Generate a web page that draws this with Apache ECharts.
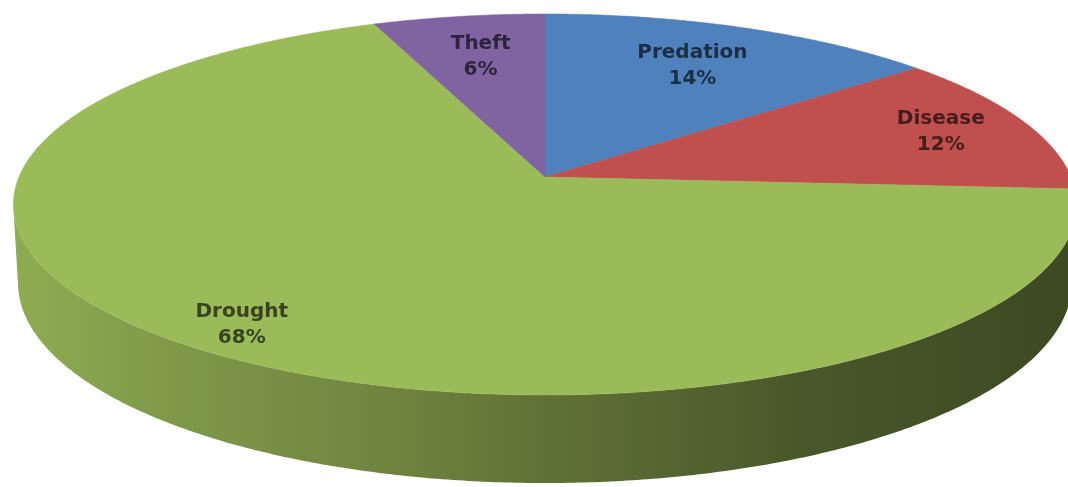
<!DOCTYPE html>
<html>
<head>
<meta charset="utf-8">
<script src="https://cdn.jsdelivr.net/npm/echarts@6/dist/echarts.min.js"></script>
<style>
html,body{margin:0;padding:0;background:#ffffff;}
#chart{width:1068px;height:487px;}
</style>
</head>
<body>
<div id="chart"></div>
<script>
// ---- data ----
const CATEGORIES = ['Predation', 'Disease', 'Drought', 'Theft'];
const VALUES = [14, 12, 68, 6];

// ---- style / layout ----
const COLORS = ['#4f81bd', '#c0504d', '#9bbb59', '#8064a2'];
const LABEL_RADIUS = [0.72, 0.82, 0.88, 0.72];
const VIEW = { cx: 545, cy: 177, elevDeg: 20.77, dist: 6.484, focal: 3411, height: 0.1586 };
const SIDE_SHADE = [[0, 0.92], [0.15, 0.82], [0.37, 0.7], [0.5, 0.61], [0.74, 0.47], [1, 0.39]];

const TOTAL = VALUES.reduce((a, b) => a + b, 0);
const OFFSETS = VALUES.map((v, i) => VALUES.slice(0, i).reduce((a, b) => a + b, 0));

const sE = Math.sin(VIEW.elevDeg * Math.PI / 180);
const cE = Math.cos(VIEW.elevDeg * Math.PI / 180);

function project(alphaDeg, r, z) {
  const a = alphaDeg * Math.PI / 180;
  const X = r * Math.sin(a), Y = r * Math.cos(a);
  const depth = VIEW.dist + Y * cE - z * sE;
  return [VIEW.cx + X * VIEW.focal / depth, VIEW.cy - (Y * sE + z * cE) * VIEW.focal / depth];
}

function hexToRgb(h) {
  const n = parseInt(h.slice(1), 16);
  return [(n >> 16) & 255, (n >> 8) & 255, n & 255];
}
function shade(h, f) {
  const c = hexToRgb(h).map(v => Math.max(0, Math.min(255, Math.round(v * f))));
  return 'rgb(' + c.join(',') + ')';
}

// visible range of the side wall (silhouette tangents)
const tanY = -1 / (VIEW.dist * cE);
const visMin = Math.acos(tanY) * 180 / Math.PI;
const visMax = 360 - visMin;

// pie horizontal extent for the side gradient
const leftX = project(270 - Math.asin(cE / VIEW.dist) * 180 / Math.PI, 1, 0)[0];
const rightX = 2 * VIEW.cx - leftX;

function sliceAngles(i, v) {
  const a0 = OFFSETS[i] / TOTAL * 360;
  return [a0, a0 + v / TOTAL * 360];
}

function arc(a0, a1, r, z) {
  const pts = [];
  const n = Math.max(2, Math.ceil((a1 - a0) / 0.5));
  for (let k = 0; k <= n; k++) pts.push(project(a0 + (a1 - a0) * k / n, r, z));
  return pts;
}

const seriesData = VALUES.map((v, i) => ({ name: CATEGORIES[i], value: [v, i] }));

const option = {
  backgroundColor: '#ffffff',
  animation: false,
  series: [
    {
      type: 'custom',
      coordinateSystem: 'none',
      silent: true,
      z: 1,
      data: seriesData,
      renderItem: function (params, api) {
        const v = api.value(0), i = api.value(1);
        const [a0, a1] = sliceAngles(i, v);
        const s0 = Math.max(a0, visMin), s1 = Math.min(a1, visMax);
        if (s1 <= s0) return null;
        const top = arc(s0, s1, 1, 0);
        const bot = arc(s0, s1, 1, -VIEW.height).reverse();
        const stops = SIDE_SHADE.map(s => ({ offset: s[0], color: shade(COLORS[i], s[1]) }));
        return {
          type: 'polygon',
          shape: { points: top.concat(bot) },
          style: {
            fill: new echarts.graphic.LinearGradient(leftX, 0, rightX, 0, stops, true),
            stroke: null
          }
        };
      }
    },
    {
      type: 'custom',
      coordinateSystem: 'none',
      silent: true,
      z: 2,
      data: seriesData,
      renderItem: function (params, api) {
        const v = api.value(0), i = api.value(1);
        const [a0, a1] = sliceAngles(i, v);
        const pts = [project(0, 0, 0)].concat(arc(a0, a1, 1, 0));
        const mid = (a0 + a1) / 2;
        const lp = project(mid, LABEL_RADIUS[i], 0);
        const pct = Math.round(v / TOTAL * 100) + '%';
        return {
          type: 'group',
          children: [
            {
              type: 'polygon',
              shape: { points: pts },
              style: { fill: COLORS[i], stroke: COLORS[i], lineWidth: 0.5 }
            },
            {
              type: 'text',
              x: lp[0],
              y: lp[1],
              z2: 10,
              style: {
                text: CATEGORIES[i] + '\n' + pct,
                fill: shade(COLORS[i], 0.36),
                font: 'bold 20px "DejaVu Sans"',
                lineHeight: 26,
                align: 'center',
                verticalAlign: 'middle'
              }
            }
          ]
        };
      }
    }
  ]
};

const chart = echarts.init(document.getElementById('chart'), null, { renderer: 'canvas' });
chart.setOption(option);
</script>
</body>
</html>
